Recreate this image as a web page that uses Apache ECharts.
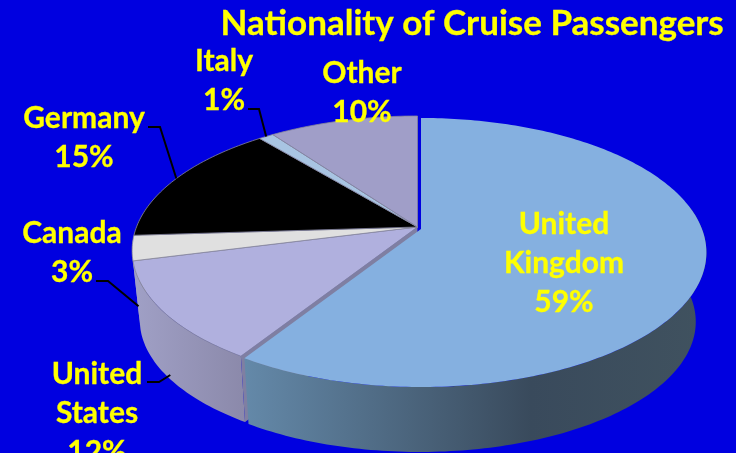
<!DOCTYPE html>
<html>
<head>
<meta charset="utf-8">
<style>html,body{margin:0;padding:0;background:#0000e0}#chart{width:736px;height:453px}</style>
<script src="https://cdn.jsdelivr.net/npm/echarts@6/dist/echarts.min.js"></script>
</head>
<body>
<div id="chart"></div>
<script>
// Passenger share by nationality, percent, clockwise from twelve o'clock
const categories = ['United Kingdom', 'United States', 'Canada', 'Germany', 'Italy', 'Other'];
const values = [59, 12, 3, 15, 1, 10];
const labelLines = [['United', 'Kingdom'], ['United', 'States'], ['Canada'], ['Germany'], ['Italy'], ['Other']];

const topColors = ['#85b0e0', '#b0b0de', '#e0e0e0', '#000000', '#a8c4e2', '#a09ec8'];
const wallStops = [
  [[0, '#6489a9'], [0.62, '#394a5c'], [1, '#40525f']],
  [[0, '#a0a0c6'], [1, '#8b89aa']],
  [[0, '#9d9dc4'], [1, '#9d9dc4']],
  [[0, '#555'], [1, '#555']],
  [[0, '#556'], [1, '#556']],
  [[0, '#556'], [1, '#556']]
];
// Layout: label centre, leader start, leader elbow, how far down the wall the leader lands
const labelBoxes = [
  { x: 564, y: 263 },
  { x: 97, y: 413, leader: [[147, 382], [159, 382]], drop: 0.93 },
  { x: 72, y: 253, leader: [[96, 281], [108, 281]], drop: 0.84 },
  { x: 84, y: 138, leader: [[148, 127], [160, 127]], drop: 0 },
  { x: 224, y: 81, leader: [[248, 109], [259, 109]], drop: 0 },
  { x: 362, y: 93 }
];

// Perspective disc: the hub sits above the middle of the visible ellipse
const disc = { x: 417.5, y: 227, rx: 281, ry: 130.4, k: 0.1747 };
const base = { scale: 0.968, dx: -1.5, dy: 70 };
const detached = { dx: 3.5, dy: 2 };
const total = values.reduce((a, b) => a + b, 0);

function startFraction(i) {
  let s = 0;
  for (let j = 0; j < i; j++) s += values[j];
  return s / total;
}
function rimPoint(angle, low, off) {
  const u = Math.sin(angle), v = -Math.cos(angle);
  const w = 1 - disc.k * v;
  const s = low ? base.scale : 1;
  return [
    disc.x + off[0] + (low ? base.dx : 0) + s * disc.rx * u / w,
    disc.y + off[1] + (low ? base.dy : 0) + s * disc.ry * v / w
  ];
}
function hub(low, off) {
  return [disc.x + off[0] + (low ? base.dx : 0), disc.y + off[1] + (low ? base.dy : 0)];
}
function sweep(a0, a1, low, off) {
  const pts = [];
  const n = Math.max(2, Math.ceil(Math.abs(a1 - a0) / (Math.PI / 180)));
  for (let i = 0; i <= n; i++) pts.push(rimPoint(a0 + (a1 - a0) * i / n, low, off));
  return pts;
}
function offsetOf(i) {
  return i === 0 ? [detached.dx, detached.dy] : [0, 0];
}
function sliceAngles(i, value) {
  const a0 = startFraction(i) * 2 * Math.PI;
  return [a0, a0 + value / total * 2 * Math.PI];
}

function renderWall(params, api) {
  const i = api.value(0), val = api.value(1), off = offsetOf(i);
  const [a0, a1] = sliceAngles(i, val);
  const frontFrom = 80 * Math.PI / 180, frontTo = 285 * Math.PI / 180;
  const from = Math.max(a0, frontFrom), to = Math.min(a1, frontTo);
  if (to <= from) return { type: 'group', children: [] };
  const up = sweep(from, to, false, off);
  const low = sweep(from, to, true, off).reverse();
  const children = [{
    type: 'polygon',
    shape: { points: up.concat(low) },
    style: {
      fill: {
        type: 'linear', x: 0, y: 0, x2: 1, y2: 0,
        colorStops: wallStops[i].map(s => ({ offset: s[0], color: s[1] }))
      }
    }
  }];
  // The cut face exposed where the detached slice has moved away
  if (i === 1) {
    children.push({
      type: 'polygon',
      shape: { points: [hub(false, off), rimPoint(a0, false, off), rimPoint(a0, true, off), hub(true, off)] },
      style: { fill: '#7f7fa2' }
    });
  }
  return { type: 'group', children };
}

function renderTop(params, api) {
  const i = api.value(0), val = api.value(1), off = offsetOf(i);
  const [a0, a1] = sliceAngles(i, val);
  return {
    type: 'polygon',
    shape: { points: [hub(false, off)].concat(sweep(a0, a1, false, off)) },
    style: {
      fill: topColors[i],
      stroke: i === 0 ? topColors[0] : '#85859b',
      lineWidth: i === 0 ? 0 : 0.8
    }
  };
}

function renderLabel(params, api) {
  const i = api.value(0), val = api.value(1), off = offsetOf(i);
  const box = labelBoxes[i];
  const children = [];
  if (box.leader) {
    const [a0, a1] = sliceAngles(i, val);
    const mid = (a0 + a1) / 2;
    const a = rimPoint(mid, false, off), b = rimPoint(mid, true, off);
    const end = [a[0] + (b[0] - a[0]) * box.drop, a[1] + (b[1] - a[1]) * box.drop];
    children.push({
      type: 'polyline',
      shape: { points: box.leader.concat([end]) },
      style: { fill: null, stroke: '#000', lineWidth: 2 }
    });
  }
  children.push({
    type: 'text',
    style: {
      x: box.x, y: box.y,
      text: labelLines[i].concat([val + '%']).join('\n'),
      fill: '#ffff00',
      stroke: '#ffff00',
      lineWidth: 0.3,
      font: 'bold 30px Lato',
      lineHeight: 39,
      align: 'center',
      verticalAlign: 'middle'
    }
  });
  return { type: 'group', children };
}

const rows = categories.map((name, i) => [i, values[i], name]);

echarts.init(document.getElementById('chart')).setOption({
  animation: false,
  backgroundColor: '#0000e0',
  title: {
    text: 'Nationality of Cruise Passengers',
    right: 7, top: 1,
    textStyle: {
      color: '#ffff00', fontFamily: 'Lato', fontWeight: 'bold', fontSize: 35,
      textBorderColor: '#ffff00', textBorderWidth: 0.3
    }
  },
  series: [
    { type: 'custom', coordinateSystem: 'none', silent: true, z: 1, data: rows.slice().reverse(), renderItem: renderWall },
    { type: 'custom', coordinateSystem: 'none', silent: true, z: 2, data: rows, renderItem: renderTop },
    { type: 'custom', coordinateSystem: 'none', silent: true, z: 3, data: rows, renderItem: renderLabel }
  ]
});
</script>
</body>
</html>
